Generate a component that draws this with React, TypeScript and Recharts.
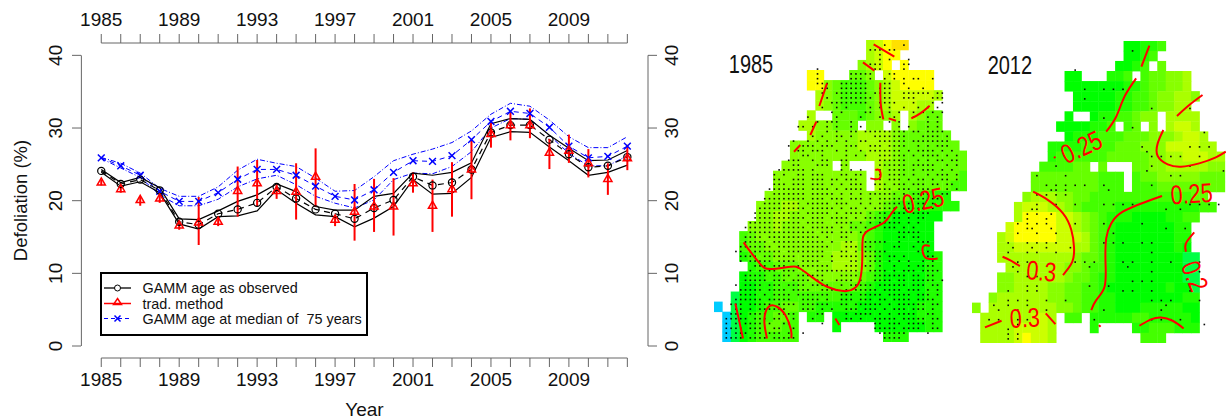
import React from 'react';
import { ComposedChart, Line, XAxis, YAxis, ErrorBar, ReferenceLine, Legend, ScatterChart, Scatter } from 'recharts';

const FONT = '"Liberation Sans", Arial, sans-serif';

const years = [1985,1986,1987,1988,1989,1990,1991,1992,1993,1994,1995,1996,1997,1998,1999,2000,2001,2002,2003,2004,2005,2006,2007,2008,2009,2010,2011,2012];
const xTickLabels = [1985,1989,1993,1997,2001,2005,2009];
const yTicks = [0,10,20,30,40];
const legendLabels = ['GAMM age as observed','trad. method','GAMM age at median of  75 years'];

const gammMid = [24.1,22.3,22.9,21.4,17.1,16.7,18.2,18.8,19.7,21.9,20.3,18.8,18.2,17.5,19.0,20.1,23.3,22.1,22.5,24.3,29.4,30.4,30.4,28.4,26.4,24.6,24.8,26.0];
const gammUp = [24.3,22.5,23.2,21.8,17.5,17.4,18.6,19.9,20.8,22.3,21.25,19.2,18.7,18.7,20.6,21.0,23.8,23.5,23.9,25.2,30.6,31.3,31.2,29.0,27.2,25.5,25.6,26.9];
const gammLo = [23.9,22.0,22.6,21.1,16.8,16.1,17.8,17.9,18.6,21.5,19.65,18.05,17.8,16.4,17.6,19.2,22.9,20.9,21.0,23.2,28.7,29.5,29.4,27.4,25.5,23.5,23.9,24.9];
const medMid = [25.9,24.8,23.5,21.3,19.9,19.9,21.1,22.95,24.3,24.3,23.5,22.0,20.6,20.1,21.5,23.9,25.5,25.4,26.2,28.4,30.9,32.3,32.0,30.1,27.5,25.9,26.1,27.5];
const medUp = [25.95,25.15,23.8,21.7,20.6,20.6,21.9,24.2,25.7,25.15,24.7,23.1,21.3,21.4,23.3,25.5,26.4,27.1,28.0,29.6,31.9,33.4,33.0,31.1,28.8,27.3,27.3,28.8];
const medLo = [25.8,24.5,23.2,20.8,19.3,19.3,20.2,21.9,23.0,23.5,22.2,20.6,19.65,19.0,20.1,22.9,23.8,23.7,24.7,26.75,30.0,31.3,31.2,29.0,26.5,24.8,24.8,26.2];
const trad = [22.5,21.6,20.1,20.3,16.6,17.0,17.1,21.35,22.4,21.35,21.25,23.3,17.4,18.5,19.2,19.2,22.4,19.3,21.6,24.3,29.2,30.4,30.4,26.6,26.9,25.15,23.0,25.85];
const tradHigh = [22.9,22.0,20.5,20.8,17.0,20.5,17.6,24.7,25.6,22.2,25.15,27.2,18.0,22.3,23.0,23.1,23.9,22.9,25.3,28.4,30.9,32.2,32.7,28.5,29.1,27.1,25.15,27.7];
const tradLow = [22.1,21.1,19.3,19.7,16.0,13.9,16.5,17.8,19.2,20.25,17.4,19.2,16.5,14.5,15.7,15.2,21.1,15.7,17.8,20.2,27.3,28.3,28.6,24.35,25.2,23.2,20.8,24.2];

const rows = years.map((year, i) => ({
  year, gammMid: gammMid[i], gammUp: gammUp[i], gammLo: gammLo[i], medMid: medMid[i], medUp: medUp[i], medLo: medLo[i],
  trad: trad[i], tradErr: [trad[i] - tradLow[i], tradHigh[i] - trad[i]],
}));

const PALETTE: Record<string, string> = { a:'#00ccff', b:'#00ff44', c:'#00ff00', d:'#22ff00', e:'#44ff00', f:'#66ff00', g:'#88ff00', h:'#aaff00', i:'#ccff00', j:'#ffff00', k:'#ffe000' };

const colors1985 = [
'..................hijkk',
'..................hijj',
'.................ghij.j',
'...........jj...ffg.ijjjjj',
'...........jjgfeeefghijjjj',
'............hgfeeefghiiiiih',
'............hgfeeefghiiihh',
'...........h..fffefggh.hgff',
'..........hhggfff.gg.g.gfff',
'...........hggggghhhhgffffff',
'.........gggggggghhhhgfffffff',
'.........ggggggggghhhgffffffff',
'........gggggg.g...hggffffffff',
'.......ggggggggggg.hggfffffffe',
'.......ggggggggggg.hggffffffee',
'......gggggggggggggggffeeddd',
'.....ggghhggggggggggfeddddddd',
'.....gghhgggggggggfedcccccc',
'....ggghggggggggffedcccccc',
'...efggggggggggggfedcccccc',
'...effggggggggghhfedcccccc',
'...deffggggggghhhgfdccccccd',
'....deefffgggghhhgfdcccccdd',
'...cddeefffggggggfedcccccdd',
'...ccddeeefffffffedccccccdd',
'..bccddeeeeeeeedddcccccccdd',
'a.bccdeeffeedddddcccccccddd',
'.abcdeeffe.dd.ccccccccccddd',
'.abcdeffee....c....ccccccdd',
'.abcdeeeee..........ddd',
];

const colors2012 = [
'..................ccdde',
'..................ccde',
'.................ccde.f',
'...........cc...dde.effggh',
'...........cccccccddeffggh',
'............cccccddeefgghhg',
'............cccccddeefgghh',
'...........c..cddeefgg.hhhh',
'..........ccccdde.ef.g.hiih',
'...........cdddeeefffggghiih',
'.........ddddeeeefffgggiiiihh',
'.........deeeeeefffffgghhiiihh',
'........eeeeff.f...ffgghhhhhgg',
'.......ffffffffeee.effgggggfff',
'.......ffffffffeee.eeeffffffff',
'......ghhhggffeeeeeeeeeeeeff',
'.....hiiihhgfeeeeddddddddddee',
'.....hjjjjiihgfedddccccddee',
'....ijjjjjiihgfedcccccccdd',
'...hijjjjjiiihfedcccccccdd',
'...hhiiiiiiihhfedcccccccdc',
'...hhhhhhhhhgffedccccccccbb',
'....hhhhhhhggfeedccccccccbb',
'...gghhhhhhgffeddccccccccbb',
'...gghhhhggffeedcccccccdccb',
'..ghhhhhhggffeeddccccccccdd',
'g.hhhhhhhhggfeeddcccdddddcc',
'.hhhhhhiih.ee.dddddeedddddc',
'.hhhhiiiih....d....ddeeeddd',
'.hhhhijiih..........eee',
];

const dots1985 = [
'34,38','31-33,35,36','33','33,35,39','31-33,38,39','20,32,33,38','20,27-31,35,36','20,27-29,31,34,36,38,40,41,44',
'20-22,25-30,34,35,38','21,22,25-30,33-35,39,42','21,24-30,32-35,38-43,45,46','22,25-31,34,35,38-40,44-46','23-30,33-36,40,44,46',
'21,24,26,31,33,35,38,41,43,45','23,25,30,31,35,37,40,42,44,46','18,24,29,33,36,40,43,45',
'20,22-24,27,35,37,43,45','16,17,19,22,24,27,29,37,39,43,45','22,24,27,28,30-38,40,41,43-46','19,21,24,25,27,32-38,42,43-45,47',
'15,18,20,22,24,26,29,30,33-38,40-47','14,17-19,21-23,26-28,31-33,35-38,41,43,45-47','16,17,19-21,24,26,29,31-37,39,41-44,46,48','17,18,21,26,28,30,33-38,40,42-45,47,49',
'14-16,19,21,22,25,26,33-38,41,43,45,46,48,49','15,16,20-22,25,26,33-38,40-44,47,49','12-17,19,25,27,29,33,35-38,40,42-44,46,48','11,13,16,17,19-21,25,26,28,29,33,35-38,40,43,45-47,49',
'11,12,15-17,19-21,23,24,26-28,32,33,35-37,39,41,42,44,46,47,49','11-13,15-17,19-21,23,25,27-29,32-34,36-38,40-42,44,45,47,48','10-17,19-22,24,26-29,33-35,37-39,41-43,45,47,49','11-17,19-23,25,27,29,31-36,38,40-43,46,47',
'9-17,19-21,23-25,27-29,31,33-38,40-42,44,45','9-16,18-22,24-26,29,31,33-37,39,41,42,44','8-17,19-23,25,27,28,30,32-36,38-42,44','7-16,18-22,24,26-29,31,33,34,36-38,40-43',
'7-17,19-21,23-26,28,30-34,36,37,39,41,42','6-16,18-21,24-27,29,31,33-37,39,41','5-17,19-23,25,27,28,30,32,34-36,38,40','6-19,21-23,25-27,29,30,37-41',
'5-8,10-20,22,25,26,37,38,40,41','5-9,11-21,23,26,27,30-34,37,41-43','4-10,12-22,26-28,30,31,36,37,40','3,4,6-12,14-21,25,26,28,30-34,41,43',
'4-7,9-15,17-21,23,25-28,30-33,35,36,38,43,44','4,6-10,12-15,17-20,23,27,28,31-33,35,37,39,42,44','7-9,11-13,16-22,26-28,30,31,33,36,39,41-44','6,8-11,13-15,17,20-28,31-34,36,38-40,42-45',
'5-9,11-14,16-21,25-28,32-38,40,41,43,44','5-9,11-13,15-18,20,21,24-27,29,32-35,37,38,40-44,46','3,5-8,10-12,14-17,19-22,25,27-31,33-38,40-42,44,45','4-8,10-13,15-18,21-24,26,28-32,34-37,39-41,43,45',
'4-7,9,11-14,16-22,25-27,29-33,35-39,41-43,45','3-8,10-14,17-20,22,25-27,29-31,33,34,36-39,41-44','2-4,6-10,12-15,17-22,25,26,28-33,35,37-42,44,45','3,4,6,8-13,17-19,21,23,26-28,30-32,34,36-38,40-42,44',
'2-4,6-9,12-15,20,21,26,28-31,33,35,37-40,43,44','1-5,7-9,11,12,15,19,26,27,29,32-36,38-42,44,45','1,3,5-8,10,13,14,21,32,33,35-37,39-42,44','1-4,6-8,11,12,15,32-36,38-41,44,45',
'1,3-5,7,8,10-12,14,17,33-38,43','1-4,6-9,11-15,34-37',
];

const dots2012 = ['','32','','','','20','','','','22,26,28,30','','22','','36,44','','26','','32','47','','','34,44,46,48','35','36,38,40,42,46','','16,36,44','35,51','12,18,40,42','','14,16,18,20,22,26,36','15,16,18,27','12,14,16,18','','12,16,20,26,28,30,32,44,46,48,50','11,12,39,42','10,12,15','10,14','8,10,12,14,20,26,34','10,11,15,39,43','8,12,16,28','','6,10,12,14,16,26,28,30,34,36','7,11,14,19','6,10,12,16,36','','8,10,20,22,24,30,32,36,40,46','7,23,31','8,36,46','10,12','32,34,36','10,12,23,27,44','6,10,12,30,32,36,44','','6,8,10,14,18,36,38,40,46','3,6,10,39','4,8,14,26,38','','2,4,8,10,24,36,38,40,42','8,47','6','6,8','6,8'];

type Pt = [number, number];
const contours1985: Pt[][] = [
  [[520,43],[582,80]],[[488,97],[522,122]],[[380,160],[357,228]],[[348,275],[330,315]],[[300,345],[281,365]],
  [[540,158],[541,220],[549,268]],[[565,265],[587,272]],[[688,227],[660,250],[633,265]],[[510,445],[538,445],[538,422],[525,420]],
  [[130,637],[150,665],[180,702],[210,717],[270,710],[300,716],[340,745],[380,770],[430,783],[462,775],[480,745],[486,680],[488,622],[510,598],[550,578],[570,555],[590,530]],
  [[688,648],[668,650],[675,682],[712,685]],[[105,820],[115,865],[128,925]],[[200,925],[192,870],[205,830],[230,830],[255,855],[272,900],[273,925]],[[405,865],[417,885]],
];
const contours2012: Pt[][] = [
  [[570,47],[546,110]],[[530,145],[495,200],[470,260],[440,305]],[[730,195],[690,225],[653,258]],
  [[612,300],[595,340],[595,378],[625,403],[665,410],[720,400],[770,382],[800,365]],[[283,380],[287,384]],
  [[220,485],[265,510],[310,550],[335,600],[343,650],[338,695],[310,735]],[[128,680],[150,690],[180,708]],
  [[608,498],[560,515],[490,545],[455,580],[440,625],[438,700],[435,770],[410,810],[395,840]],
  [[705,607],[680,640],[680,665]],[[75,892],[125,872]],[[258,850],[287,882]],[[418,885],[423,890]],[[540,887],[575,868],[605,862],[640,872],[673,895]],
];
const labels1985 = [{ x: 152, y: 103, text: '1985', angle: 0, fill: '#111' }, { x: 668, y: 510, text: '0.25', angle: -12, fill: '#f00' }];
const labels2012 = [
  { x: 150, y: 105, text: '2012', angle: 0, fill: '#111' }, { x: 365, y: 350, text: '0.25', angle: -25, fill: '#f00' },
  { x: 697, y: 490, text: '0.25', angle: -4, fill: '#f00' }, { x: 245, y: 722, text: '0.3', angle: 5, fill: '#f00' },
  { x: 195, y: 862, text: '0.3', angle: -3, fill: '#f00' }, { x: 708, y: 738, text: '0.2', angle: 68, fill: '#f00' },
];

const CELL_W = 8.46, CELL_H = 10.07, DOT_X0 = 7.53, DOT_Y0 = 5.1, DOT_PITCH = 4.8;

const toCells = (list: string[]) => list.flatMap((row, r) => row.split('').flatMap((ch, c) => (ch === '.' ? [] : [{ x: c + 0.5, y: r + 0.5, code: ch }])));
const toDots = (list: string[]) => list.flatMap((spec, m) => (spec ? spec.split(',') : []).flatMap((tok) => {
  const [a, b] = tok.split('-').map(Number);
  const out: { x: number; y: number }[] = [];
  for (let k = a; k <= (b ?? a); k++) out.push({ x: (DOT_X0 + DOT_PITCH * k) / CELL_W, y: (DOT_Y0 + DOT_PITCH * m) / CELL_H });
  return out;
}));

const CellShape = (p: any) => <rect x={p.cx - CELL_W / 2 - 0.2} y={p.cy - CELL_H / 2 - 0.2} width={CELL_W + 0.4} height={CELL_H + 0.4} fill={PALETTE[p.payload.code]} />;
const DotShape = (p: any) => <rect x={p.cx - 0.8} y={p.cy - 0.8} width={1.6} height={1.6} fill="#0a0a0a" />;
const NoShape = () => <g />;
const LabelShape = (p: any) => (
  <text x={0} y={0} dy="0.36em" textAnchor="middle" fontFamily={FONT} fontSize={p.payload.fill === '#111' ? 25 : 27} fill={p.payload.fill}
    transform={`translate(${p.cx} ${p.cy}) rotate(${p.payload.angle}) scale(0.8 1)`}>{p.payload.text}</text>
);

function MapPanel({ left, top, colors, dots, contours, labels, ox, oy }: any) {
  const toGrid = (pts: Pt[]) => pts.map(([x, y]) => ({ x: (x - ox) / 25.38, y: (y - oy) / 30.2 }));
  const labelPts = labels.map((l: any) => ({ ...l, ...toGrid([[l.x, l.y]])[0] }));
  return (
    <div style={{ position: 'absolute', left, top }}>
      <ScatterChart width={CELL_W * 30} height={CELL_H * 30} margin={{ top: 0, right: 0, bottom: 0, left: 0 }}>
        <XAxis hide type="number" dataKey="x" domain={[0, 30]} />
        <YAxis hide type="number" dataKey="y" domain={[0, 30]} reversed />
        <Scatter data={toCells(colors)} shape={CellShape} isAnimationActive={false} />
        <Scatter data={toDots(dots)} shape={DotShape} isAnimationActive={false} />
        {contours.map((c: Pt[], i: number) => (
          <Scatter key={i} data={toGrid(c)} shape={NoShape} line={{ stroke: '#f00', strokeWidth: 2 }} lineJointType="natural" isAnimationActive={false} />
        ))}
        <Scatter data={labelPts} shape={LabelShape} isAnimationActive={false} />
      </ScatterChart>
    </div>
  );
}

const CircleDot = (p: any) => <circle key={p.key} cx={p.cx} cy={p.cy} r={3.6} fill="none" stroke="#000" strokeWidth={1.2} />;
const CrossDot = (p: any) => (
  <path key={p.key} d={`M${p.cx - 3.4} ${p.cy - 3.4}L${p.cx + 3.4} ${p.cy + 3.4}M${p.cx - 3.4} ${p.cy + 3.4}L${p.cx + 3.4} ${p.cy - 3.4}`} stroke="#00f" strokeWidth={1.5} fill="none" />
);
const TriDot = (p: any) => (
  <path key={p.key} d={`M${p.cx} ${p.cy - 4.6}L${p.cx + 4.1} ${p.cy + 2.6}L${p.cx - 4.1} ${p.cy + 2.6}Z`} stroke="#f00" strokeWidth={1.5} fill="none" />
);

const XMIN = 1983.96, XMAX = 2013.06, YMIN = -1.65, YMAX = 41.7;
const AXIS = '#666';
const fmtYear = (v: number) => (xTickLabels.includes(v) ? String(v) : '');

const YTickLeft = (p: any) => <text x={p.x - 10} y={p.y} textAnchor="middle" fontFamily={FONT} fontSize={19} fill="#111" transform={`rotate(-90 ${p.x - 10} ${p.y})`}>{p.payload.value}</text>;
const YTickRight = (p: any) => <text x={p.x + 21} y={p.y} textAnchor="middle" fontFamily={FONT} fontSize={19} fill="#111" transform={`rotate(-90 ${p.x + 21} ${p.y})`}>{p.payload.value}</text>;

const LegendBox = () => (
  <svg width={268} height={64} style={{ display: 'block' }}>
    <rect x={1} y={1} width={266} height={62} fill="#fff" stroke="#000" strokeWidth={2} />
    {legendLabels.map((t, i) => <text key={t} x={42.5} y={21 + i * 15.6} fontFamily={FONT} fontSize={14.4} fill="#111" style={{ whiteSpace: 'pre' }}>{t}</text>)}
    <line x1={4} x2={31} y1={16} y2={16} stroke="#000" strokeWidth={1.3} />
    <circle cx={17.5} cy={16} r={3} fill="#fff" stroke="#000" />
    <line x1={4} x2={31} y1={31.5} y2={31.5} stroke="#f00" strokeWidth={1.5} />
    <path d="M17.5 26.5L21.5 32.5L13.5 32.5Z" fill="none" stroke="#f00" strokeWidth={1.5} />
    <line x1={4} x2={31} y1={46.5} y2={46.5} stroke="#00f" strokeWidth={1} strokeDasharray="4 3" />
    <path d="M14.5 43.5L20.5 49.5M14.5 49.5L20.5 43.5" stroke="#00f" strokeWidth={1.5} />
  </svg>
);

function Main() {
  return (
    <ComposedChart width={700} height={419} data={rows} margin={{ top: 0, right: 0, bottom: 0, left: 0 }}>
      <XAxis type="number" dataKey="year" domain={[XMIN, XMAX]} ticks={years} interval={0} height={61} tickSize={9} tickMargin={6} tickFormatter={fmtYear}
        axisLine={false} tickLine={{ stroke: AXIS }} tick={{ fontSize: 19, fontFamily: FONT, fill: '#111' }}
        label={{ value: 'Year', position: 'insideBottom', offset: 3, fontSize: 19, fontFamily: FONT, fill: '#111' }} />
      <XAxis xAxisId="top" orientation="top" type="number" dataKey="year" domain={[XMIN, XMAX]} ticks={years} interval={0} height={43} tickSize={9} tickMargin={8} tickFormatter={fmtYear}
        axisLine={false} tickLine={{ stroke: AXIS }} tick={{ fontSize: 19, fontFamily: FONT, fill: '#111' }} />
      <YAxis type="number" domain={[YMIN, YMAX]} ticks={yTicks} interval={0} width={81} tickSize={9} tickMargin={0} axisLine={false} tickLine={{ stroke: AXIS }} tick={YTickLeft}
        label={{ value: 'Defoliation (%)', angle: -90, position: 'insideLeft', offset: 20, style: { textAnchor: 'middle' }, fontSize: 18.5, fontFamily: FONT, fill: '#111' }} />
      <YAxis yAxisId="right" orientation="right" type="number" domain={[YMIN, YMAX]} ticks={yTicks} interval={0} width={52} tickSize={9} tickMargin={0} axisLine={false} tickLine={{ stroke: AXIS }} tick={YTickRight} />

      <ReferenceLine segment={[{ x: 1985, y: YMIN }, { x: 2012, y: YMIN }]} stroke={AXIS} ifOverflow="visible" />
      <ReferenceLine segment={[{ x: 1985, y: YMAX }, { x: 2012, y: YMAX }]} stroke={AXIS} ifOverflow="visible" />
      <ReferenceLine segment={[{ x: XMIN + 0.02, y: 0 }, { x: XMIN + 0.02, y: 40 }]} stroke={AXIS} ifOverflow="visible" />
      <ReferenceLine segment={[{ x: XMAX, y: 0 }, { x: XMAX, y: 40 }]} stroke={AXIS} ifOverflow="visible" />

      <Line xAxisId="top" yAxisId="right" dataKey="gammMid" stroke="none" dot={false} isAnimationActive={false} legendType="none" />
      <Line dataKey="medUp" stroke="#00f" strokeWidth={1} strokeDasharray="5 2 1 2" dot={false} isAnimationActive={false} legendType="none" />
      <Line dataKey="medLo" stroke="#00f" strokeWidth={1} strokeDasharray="5 2 1 2" dot={false} isAnimationActive={false} legendType="none" />
      <Line dataKey="medMid" name={legendLabels[2]} stroke="#00f" strokeWidth={1} strokeDasharray="5 4" dot={CrossDot} isAnimationActive={false} />
      <Line dataKey="gammUp" stroke="#000" strokeWidth={1.2} dot={false} isAnimationActive={false} legendType="none" />
      <Line dataKey="gammLo" stroke="#000" strokeWidth={1.2} dot={false} isAnimationActive={false} legendType="none" />
      <Line dataKey="gammMid" name={legendLabels[0]} stroke="#000" strokeWidth={1.2} strokeDasharray="6 5" dot={CircleDot} isAnimationActive={false} />
      <Line dataKey="trad" name={legendLabels[1]} stroke="none" dot={TriDot} isAnimationActive={false}>
        <ErrorBar dataKey="tradErr" width={0} stroke="#f00" strokeWidth={2} direction="y" isAnimationActive={false} />
      </Line>
      <Legend layout="vertical" align="center" verticalAlign="middle" content={LegendBox} wrapperStyle={{ position: 'absolute', left: 100, top: 272, width: 268, height: 64, margin: 0 }} />
    </ComposedChart>
  );
}

export default function App() {
  return (
    <div style={{ position: 'absolute', left: 0, top: 0, width: 1229, height: 419, background: '#fff', overflow: 'hidden' }}>
      <div style={{ position: 'absolute', left: 0, top: 0 }}><Main /></div>
      <MapPanel left={713.67} top={40} colors={colors1985} dots={dots1985} contours={contours1985} labels={labels1985} ox={41} oy={30} />
      <MapPanel left={972} top={40.7} colors={colors2012} dots={dots2012} contours={contours2012} labels={labels2012} ox={36} oy={33} />
    </div>
  );
}
